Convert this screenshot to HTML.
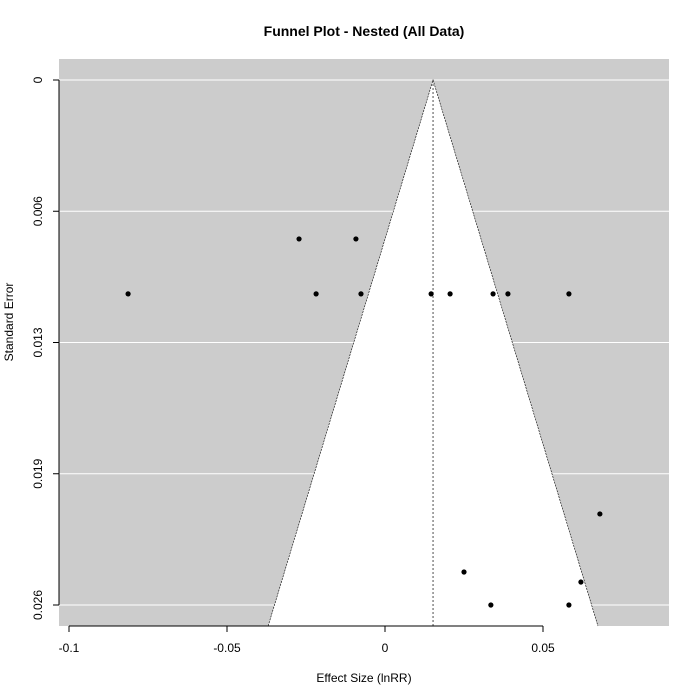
<!DOCTYPE html>
<html><head><meta charset="utf-8"><style>
body{margin:0;background:#fff;}
svg{display:block;font-family:"Liberation Sans",Arial,sans-serif;}
</style></head><body>
<svg id="chart" width="700" height="700">
<text x="364" y="36" text-anchor="middle" font-weight="bold" font-size="14">Funnel Plot - Nested (All Data)</text>
<text x="364" y="682" text-anchor="middle" font-size="12">Effect Size (lnRR)</text>
<text transform="translate(13,322) rotate(-90)" text-anchor="middle" font-size="12">Standard Error</text>
<g id="plot"></g>
</svg>
<script>
const effects=[-0.0272,-0.0092,-0.0813,-0.0218,-0.0076,0.0146,0.0206,0.0342,0.0389,0.0582,0.0680,0.0250,0.0620,0.0335,0.0582];
const ses=[0.00775,0.00775,0.01043,0.01043,0.01043,0.01043,0.01043,0.01043,0.01043,0.01043,0.02116,0.02399,0.02448,0.0256,0.0256];
const estimate=0.0152;
const xTicks=[-0.1,-0.05,0,0.05];
const xTickLabels=["-0.1","-0.05","0","0.05"];
const yTicks=[0,0.0064,0.0128,0.0192,0.0256];
const yTickLabels=["0","0.006","0.013","0.019","0.026"];
const seMax=0.0256;
const NS="http://www.w3.org/2000/svg";
const L=59,R=669,T=59,B=626;
const X=v=>385+v*3160;
const Y=s=>80+s/seMax*525;
const g=document.getElementById('plot');
function mk(t,a){const e=document.createElementNS(NS,t);for(const k in a)e.setAttribute(k,a[k]);g.appendChild(e);return e;}
let e=mk('rect',{x:L,y:T,width:R-L,height:B-T,fill:'#cccccc'});


yTicks.forEach((t,i)=>{
 let l=mk('line',{x1:L,x2:R,y1:Y(t),y2:Y(t),stroke:'#fff','stroke-width':1});
 
 
});
const seB=(B-80)/525*seMax;
let f=mk('polygon',{points:`${X(estimate)},${Y(0)} ${X(estimate-1.96*seB)},${B} ${X(estimate+1.96*seB)},${B}`,fill:'#fff',stroke:'none'});


let fe=mk('polyline',{points:`${X(estimate-1.96*seB)},${B} ${X(estimate)},${Y(0)} ${X(estimate+1.96*seB)},${B}`,fill:'none',stroke:'#000','stroke-width':0.6,'stroke-dasharray':'2,1'});


let c=mk('line',{x1:X(estimate),x2:X(estimate),y1:Y(0),y2:B,stroke:'#000','stroke-width':0.7,'stroke-dasharray':'2,2'});


effects.forEach((v,i)=>{
 let p=mk('circle',{cx:X(v),cy:Y(ses[i]),r:2.6,fill:'#000'});
 
 
});
let xa=mk('line',{x1:X(xTicks[0]),x2:X(xTicks[xTicks.length-1]),y1:B,y2:B,stroke:'#000'});


xTicks.forEach((t,i)=>{
 mk('line',{x1:X(t),x2:X(t),y1:B,y2:B+6,stroke:'#000'});
 let tx=mk('text',{x:X(t),y:B+26,'text-anchor':'middle','font-size':12});
 tx.textContent=xTickLabels[i];
 
 
});
let ya=mk('line',{x1:L,x2:L,y1:Y(0),y2:Y(yTicks[yTicks.length-1]),stroke:'#000'});


yTicks.forEach((t,i)=>{
 mk('line',{x1:L,x2:L-6,y1:Y(t),y2:Y(t),stroke:'#000'});
 let tx=mk('text',{transform:`translate(${L-17},${Y(t)}) rotate(-90)`,'text-anchor':'middle','font-size':12});
 tx.textContent=yTickLabels[i];
 
 
});
</script>
</body></html>
